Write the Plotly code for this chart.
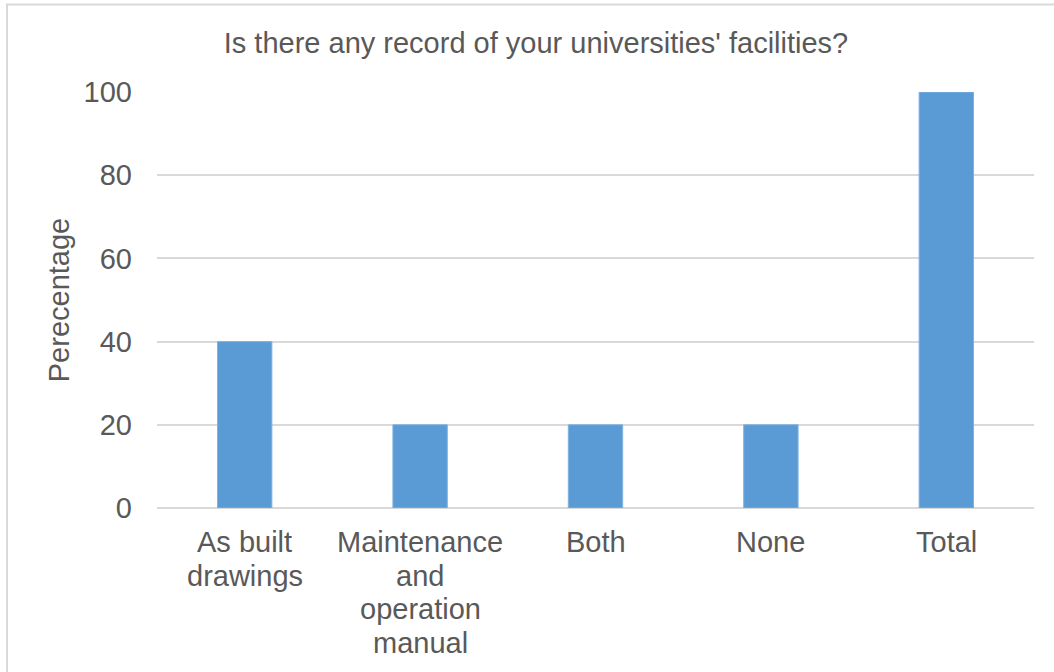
import plotly.graph_objects as go

categories = ["As built<br>drawings", "Maintenance<br>and<br>operation<br>manual", "Both", "None", "Total"]
values = [40, 20, 20, 20, 100]
y_ticks = [0, 20, 40, 60, 80, 100]

TEXT = "#595959"
GRID = "#d9d9d9"
BAR = "#5B9BD5"
FONT = "Liberation Sans, Arial, sans-serif"
FS = 29

fig = go.Figure()
fig.add_trace(go.Bar(
    x=categories, y=values,
    marker=dict(color=BAR, line=dict(color="#7fb2e0", width=1)),
    hoverinfo="y",
))

fig.update_layout(
    width=1054, height=672,
    margin=dict(l=157, r=20, t=92, b=164),
    paper_bgcolor="white", plot_bgcolor="white",
    bargap=0.69,
    showlegend=False,
    font=dict(family=FONT, color=TEXT, size=FS),
    title=dict(
        text="Is there any record of your universities' facilities?",
        x=536 / 1054, xanchor="center", xref="container",
        y=1 - 43 / 672, yanchor="middle", yref="container",
        font=dict(family=FONT, color=TEXT, size=FS),
    ),
)

fig.update_xaxes(
    type="category",
    showgrid=False, showline=False, zeroline=False,
    ticks="", showticklabels=False, automargin=False,
)
fig.update_yaxes(
    range=[0, 100], tickvals=y_ticks, ticktext=[str(v) for v in y_ticks],
    showgrid=True, gridcolor=GRID, gridwidth=2,
    zeroline=True, zerolinecolor=GRID, zerolinewidth=2,
    showline=False, ticks="", automargin=False,
    tickfont=dict(family=FONT, color=TEXT, size=FS),
    ticklabelstandoff=24,
    title=dict(text="Perecentage", font=dict(family=FONT, color=TEXT, size=FS), standoff=5),
)

# category labels (multi-line, tighter line spacing like the original)
LINE_GAP = 33.7
FIRST_OFFSET = 34
for cat in categories:
    for i, line in enumerate(cat.split("<br>")):
        fig.add_annotation(
            x=cat, y=0, xref="x", yref="paper",
            text=line, showarrow=False,
            xanchor="center", yanchor="middle",
            yshift=-(FIRST_OFFSET + i * LINE_GAP),
            font=dict(family=FONT, color=TEXT, size=FS),
        )

# chart-area border (light gray frame, extending past the right/bottom edges)
fig.add_shape(
    type="rect", xref="paper", yref="paper",
    x0=(7 - 157) / 877, x1=1.2, y0=-0.6, y1=(507.7 - 5) / 415.4,
    line=dict(color=GRID, width=2), fillcolor="rgba(0,0,0,0)", layer="below",
)

fig.write_html("out.html", config={"displayModeBar": False},
               post_script="document.body.style.margin='0';")
